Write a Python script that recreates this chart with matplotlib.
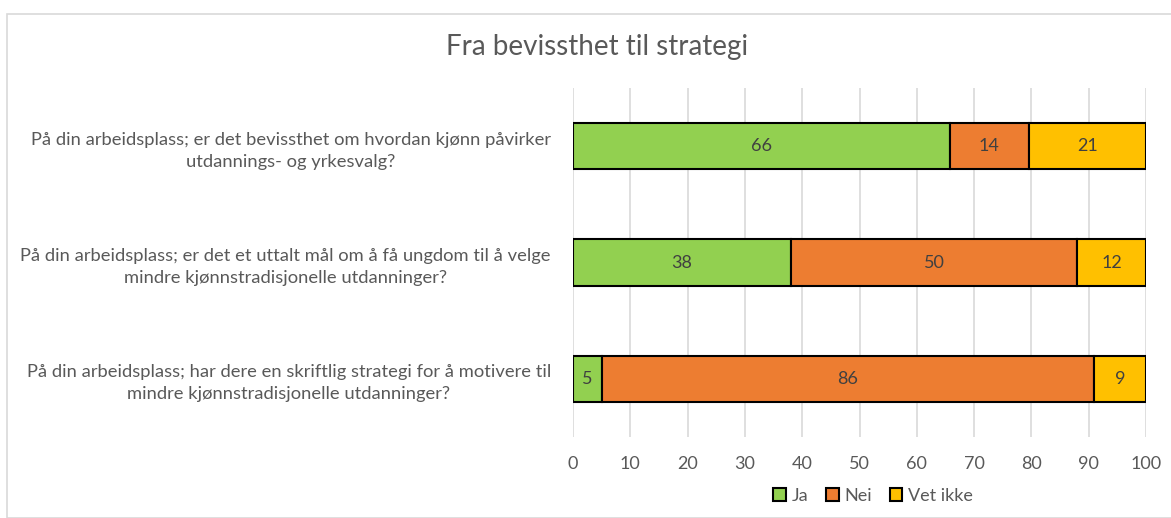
import matplotlib.pyplot as plt
from matplotlib.patches import Rectangle

questions = [
    "På din arbeidsplass; er det bevissthet om hvordan kjønn påvirker\nutdannings- og yrkesvalg?",
    "På din arbeidsplass; er det et uttalt mål om å få ungdom til å velge\nmindre kjønnstradisjonelle utdanninger?",
    "På din arbeidsplass; har dere en skriftlig strategi for å motivere til\nmindre kjønnstradisjonelle utdanninger?",
]
ja = [65.8, 38, 5]
nei = [13.7, 50, 86]
vet_ikke = [20.5, 12, 9]
series_names = ["Ja", "Nei", "Vet ikke"]
colors = ["#92D050", "#ED7D31", "#FFC000"]

plt.rcParams['font.family'] = ['Lato', 'DejaVu Sans']
text_color = "#595959"

fig = plt.figure(figsize=(11.71, 5.18), dpi=100)
fig.patches.append(Rectangle((7 / 1171, 0.0), 1.2, 1 - 14 / 518, transform=fig.transFigure,
                             fill=False, edgecolor="#D9D9D9", linewidth=1.2))
ax = fig.add_axes([573 / 1171, 1 - 437 / 518, (1146 - 573) / 1171, (437 - 88) / 518])

ypos = list(range(len(questions)))
left = [0] * len(questions)
for name, vals, col in zip(series_names, [ja, nei, vet_ikke], colors):
    bars = ax.barh(ypos, vals, left=left, height=0.4, color=col, edgecolor="black",
                   linewidth=1.5, label=name, zorder=3)
    # labels rounded half-up like the source
    ax.bar_label(bars, labels=[str(int(v + 0.5)) for v in vals], label_type="center",
                 color="#404040", fontsize=13)
    left = [l + v for l, v in zip(left, vals)]

ax.set_xlim(0, 100)
ax.set_ylim(len(questions) - 0.5, -0.5)
ax.set_xticks(range(0, 101, 10))
ax.set_yticks(ypos)
ax.set_yticklabels(questions, multialignment="center", fontsize=13.2, color=text_color,
                   linespacing=1.45)
ax.tick_params(axis="x", colors=text_color, labelsize=13, length=0, pad=14)
ax.tick_params(axis="y", length=0, pad=16)
ax.grid(axis="x", color="#D9D9D9", linewidth=1.2, zorder=0)
for s in ax.spines.values():
    s.set_visible(False)

fig.text(597 / 1171, 1 - 47 / 518, "Fra bevissthet til strategi", ha="center", va="center",
         fontsize=20, color=text_color)

fig.legend(loc="center", bbox_to_anchor=(873 / 1171, 1 - 496 / 518), ncol=3, frameon=False,
           fontsize=13, labelcolor=text_color, handlelength=0.7, handleheight=0.7,
           handletextpad=0.3, columnspacing=1.0)

fig.savefig("out.png", dpi=100)
